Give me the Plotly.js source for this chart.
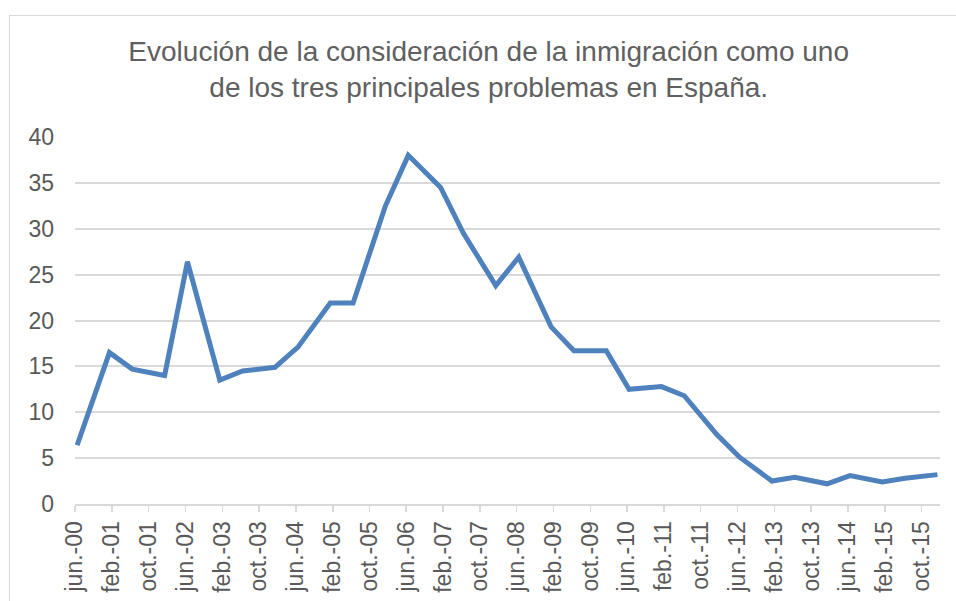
<!DOCTYPE html>
<html>
<head>
<meta charset="utf-8">
<script src="https://cdn.plot.ly/plotly-3.0.1.min.js"></script>
<style>
  html, body { margin: 0; padding: 0; background: #ffffff; overflow: hidden; }
  #chart { width: 956px; height: 601px; position: absolute; left: 0; top: 0; }
  #frame { position: absolute; left: 9px; top: 15px; width: 1000px; height: 1000px;
           border: 1px solid #d9d9d9; pointer-events: none; z-index: 5; }
</style>
</head>
<body>
<div id="chart"></div>
<div id="frame"></div>
<script>
// Survey dates (each point: January / June barometer)
const dates = [
  '2000-06-15',
  '2001-01-15','2001-06-15','2002-01-15','2002-06-15','2003-01-15','2003-06-15',
  '2004-01-15','2004-06-15','2005-01-15','2005-06-15','2006-01-15','2006-06-15',
  '2007-01-15','2007-06-15','2008-01-15','2008-06-15','2009-01-15','2009-06-15',
  '2010-01-15','2010-06-15','2011-01-15','2011-06-15','2012-01-15','2012-06-15',
  '2013-01-15','2013-06-15','2014-01-15','2014-06-15','2015-01-15','2015-06-15',
  '2016-01-15'
];
// Percentage citing immigration as one of the three main problems
const values = [
  6.4,
  16.5, 14.7, 14.0, 26.4, 13.5, 14.5,
  14.9, 17.1, 21.9, 21.9, 32.5, 38.0,
  34.5, 29.5, 23.8, 26.9, 19.3, 16.7,
  16.7, 12.5, 12.8, 11.8, 7.6, 5.1,
  2.5, 2.9, 2.2, 3.1, 2.4, 2.8,
  3.2
];
// Axis tick labels (every 8 months from jun.-00)
const tickLabels = [
  'jun.-00','feb.-01','oct.-01','jun.-02','feb.-03','oct.-03','jun.-04','feb.-05',
  'oct.-05','jun.-06','feb.-07','oct.-07','jun.-08','feb.-09','oct.-09','jun.-10',
  'feb.-11','oct.-11','jun.-12','feb.-13','oct.-13','jun.-14','feb.-15','oct.-15'
];
const tickStart = { year: 2000, month: 6 };
const tickStepMonths = 8;

const tickVals = tickLabels.map((_, i) => {
  const m0 = (tickStart.year * 12 + (tickStart.month - 1)) + i * tickStepMonths;
  const y = Math.floor(m0 / 12), m = (m0 % 12) + 1;
  return y + '-' + String(m).padStart(2, '0') + '-01';
});

const fontFam = '"Liberation Sans", Arial, sans-serif';
const grey = '#595959';
const gridGrey = '#d9d9d9';

const trace = {
  x: dates,
  y: values,
  type: 'scatter',
  mode: 'lines',
  line: { color: '#4f81bd', width: 5, shape: 'linear' },
  hoverinfo: 'x+y'
};

const layout = {
  width: 956,
  height: 601,
  paper_bgcolor: '#ffffff',
  plot_bgcolor: '#ffffff',
  margin: { l: 75, r: 16, t: 137, b: 97 },
  showlegend: false,
  title: {
    text: 'Evolución de la consideración de la inmigración como uno<br>de los tres principales problemas en España.',
    font: { family: fontFam, size: 28, color: '#606060' },
    x: 488.7 / 956, xref: 'container', xanchor: 'center',
    y: 1 - 61 / 601, yref: 'container', yanchor: 'top'
  },
  xaxis: {
    type: 'date',
    range: ['2000-06-01', '2016-02-01'],
    tickmode: 'array',
    tickvals: tickVals,
    ticktext: tickLabels,
    tickangle: -90,
    tickfont: { family: fontFam, size: 23, color: grey },
    ticks: 'outside',
    ticklen: 6,
    tickwidth: 1.5,
    tickcolor: gridGrey,
    showgrid: false,
    showline: true,
    linecolor: gridGrey,
    linewidth: 2,
    zeroline: false,
    fixedrange: true
  },
  yaxis: {
    range: [0, 40],
    tickmode: 'linear',
    tick0: 0,
    dtick: 5,
    tickfont: { family: fontFam, size: 23, color: grey },
    ticks: '',
    ticklabelstandoff: 20,
    showgrid: true,
    gridcolor: gridGrey,
    gridwidth: 2,
    zeroline: false,
    showline: false,
    fixedrange: true
  }
};

Plotly.newPlot('chart', [trace], layout, { displayModeBar: false, staticPlot: true });
</script>
</body>
</html>
